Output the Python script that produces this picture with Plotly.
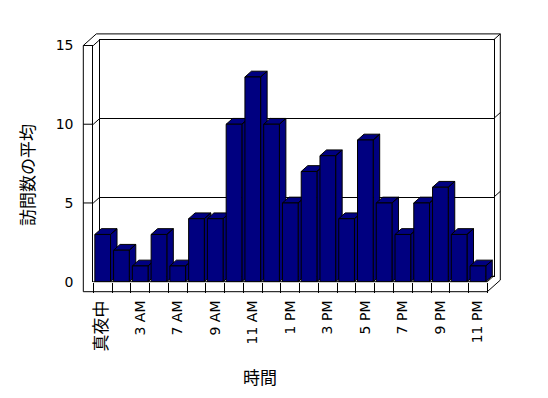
import plotly.graph_objects as go

# ---- data ----
categories = ["真夜中", "1 AM", "3 AM", "5 AM", "7 AM", "8 AM", "9 AM", "10 AM", "11 AM",
              "12 PM", "1 PM", "2 PM", "3 PM", "4 PM", "5 PM", "6 PM", "7 PM", "8 PM",
              "9 PM", "10 PM", "11 PM"]
visits = [3, 2, 1, 3, 1, 4, 4, 10, 13, 10, 5, 7, 8, 4, 9, 5, 3, 5, 6, 3, 1]
y_ticks = [0, 5, 10, 15]
y_title = "訪問数の平均"
x_title = "時間"

# ---- geometry (page pixels) ----
W, H = 548, 398
OFF = 8                      # page body margin
FX0, FX1 = 93.3, 487.3      # front plane, category span
FYT, FYB = 45.5, 281.7      # front plane, value 15 / value 0
DX, DY = 6.5, 5.8           # depth offset
WALL = 10                   # wall / floor thickness
YMAX = 15
n = len(categories)
S = (FX1 - FX0) / n
U = (FYB - FYT) / YMAX
dxu, dyu = DX / S, DY / U
hw = 15.7 / S / 2

NAVY = "#000080"
FONT = "DejaVu Sans, Noto Sans CJK JP, sans-serif"


def px(x):
    return (x - OFF) / W


def py(y):
    return 1 - (y - OFF) / H


fig = go.Figure()

# back wall subplot (needs a trace to exist)
fig.add_trace(go.Scatter(x=[None], y=[None], xaxis="x", yaxis="y",
                         showlegend=False, hoverinfo="skip"))

# side + top faces of each bar
for i, v in enumerate(visits):
    a = i + hw
    l = i - hw
    b = a + dxu
    xs = [a, a, b, b, a, None, l, l + dxu, b, a, l]
    ys = [0, v, v + dyu, dyu, 0, None, v, v + dyu, v + dyu, v, v]
    fig.add_trace(go.Scatter(x=xs, y=ys, xaxis="x2", yaxis="y2", mode="lines",
                             fill="toself", fillcolor=NAVY,
                             line=dict(color="black", width=1),
                             showlegend=False, hoverinfo="skip"))

# front faces
fig.add_trace(go.Bar(x=list(range(n)), y=visits, xaxis="x3", yaxis="y3",
                     width=2 * hw, marker=dict(color=NAVY, line=dict(color="black", width=1)),
                     showlegend=False,
                     customdata=categories,
                     hovertemplate="%{customdata}: %{y}<extra></extra>"))


def tick_label(i, c):
    if i % 2:
        return ""
    if any(ord(ch) > 0x2E80 for ch in c):
        return '<span style="font-size:17px">' + c + "</span>"
    return c


ticktext = [tick_label(i, c) for i, c in enumerate(categories)]

fig.update_layout(
    width=W, height=H, template="none",
    margin=dict(l=0, r=0, t=0, b=0),
    paper_bgcolor="white", plot_bgcolor="rgba(0,0,0,0)",
    showlegend=False,
    font=dict(family=FONT, size=14, color="black"),
    xaxis=dict(domain=[px(FX0 + DX), px(FX1 + DX)], range=[-0.5, n - 0.5], anchor="y",
               showline=True, mirror=True, linecolor="black", linewidth=1,
               showgrid=False, zeroline=False, showticklabels=False, ticks="", fixedrange=True),
    yaxis=dict(domain=[py(FYB - DY), py(FYT - DY)], range=[0, YMAX], anchor="x",
               showline=True, mirror=True, linecolor="black", linewidth=1,
               showgrid=True, gridcolor="black", gridwidth=1, tickvals=y_ticks,
               showticklabels=False, ticks="", zeroline=False, fixedrange=True),
    xaxis2=dict(domain=[px(FX0), px(FX1 + 0.5 * S)], range=[-0.5, n], anchor="y2",
                tickvals=[i - 0.5 for i in range(n + 1)], ticks="outside", ticklen=WALL,
                tickcolor="black", tickwidth=1, showticklabels=False,
                showgrid=False, zeroline=False, showline=False, fixedrange=True),
    yaxis2=dict(domain=[py(FYB), py(FYT)], range=[0, YMAX], anchor="x2",
                tickvals=y_ticks, ticks="", showline=True, linecolor="black", linewidth=1,
                showgrid=False, zeroline=False, ticklabelstandoff=16,
                tickfont=dict(size=14), fixedrange=True),
    xaxis3=dict(overlaying="x2", matches="x2", anchor="y3", side="bottom",
                tickvals=list(range(n)), ticktext=ticktext, tickangle=-90,
                ticks="", showgrid=False, zeroline=False, showline=False,
                ticklabelstandoff=15, tickfont=dict(size=14), fixedrange=True),
    yaxis3=dict(overlaying="y2", matches="y2", anchor="x3", visible=False, fixedrange=True),
)

shapes = []


def line(x0, y0, x1, y1):
    shapes.append(dict(type="line", xref="paper", yref="paper",
                       x0=px(x0), y0=py(y0), x1=px(x1), y1=py(y1),
                       line=dict(color="black", width=1), layer="above"))


OX = FX0 - WALL
FB = FYB + WALL
# left wall front face
line(OX, FYT, OX, FB)
# floor
line(OX, FB, FX1, FB)
line(FX0, FYB, FX1, FYB)
# left wall top / outer frame top
line(OX, FYT, OX + 2 * DX, FYT - 2 * DY)
line(OX + 2 * DX, FYT - 2 * DY, FX1 + 2 * DX, FYT - 2 * DY)
line(FX1 + DX, FYT - DY, FX1 + 2 * DX, FYT - 2 * DY)
# outer right edge
line(FX1 + 2 * DX, FYT - 2 * DY, FX1 + 2 * DX, FB - 2 * DY)
# floor right side
line(FX1, FB, FX1 + 2 * DX, FB - 2 * DY)
line(FX1, FYB, FX1 + DX, FYB - DY)

for v in y_ticks:
    yv = FYB - v * U
    if v > 0:
        # left wall tick + connector to back wall grid
        line(OX, yv, FX0, yv)
        line(FX0, yv, FX0 + DX, yv - DY)
        if v < YMAX:
            line(FX1 + DX, yv - DY, FX1 + 2 * DX, yv - 2 * DY)

fig.update_layout(shapes=shapes)

fig.add_annotation(text=y_title, xref="paper", yref="paper", x=px(28), y=py(175),
                   textangle=-90, showarrow=False, xanchor="center", yanchor="middle",
                   font=dict(size=17))
fig.add_annotation(text=x_title, xref="paper", yref="paper", x=px(260), y=py(378),
                   showarrow=False, xanchor="center", yanchor="middle",
                   font=dict(size=17))

fig.write_html("out.html")
